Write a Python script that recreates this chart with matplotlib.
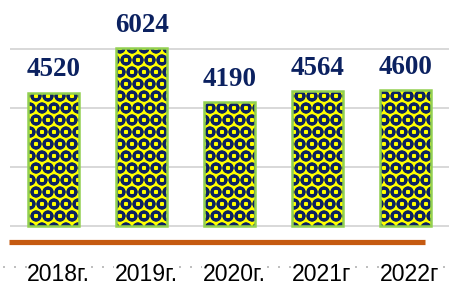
import numpy as np
import matplotlib
matplotlib.use("Agg")
import matplotlib.pyplot as plt
from matplotlib.lines import Line2D

years = ['2018г.', '2019г.', '2020г.', '2021г', '2022г']
values = [4520, 6024, 4190, 4564, 4600]

navy = '#0b2160'
yellow = '#ffff00'
green = '#92d050'

# at dpi 72 one point is one pixel
plt.rcParams['hatch.linewidth'] = 2.8

fig = plt.figure(figsize=(449 / 72, 286 / 72), dpi=72)
ax = fig.add_axes([10 / 449, 0, 439 / 449, 1])

x = np.arange(len(years))
ax.set_xlim(-0.5, len(years) - 0.5)
ax.set_ylim(-2034, 7661)

# grid
ax.set_yticks([0, 2000, 4000, 6000])
ax.grid(axis='y', color='#d9d9d9', lw=2, zorder=0)
ax.set_axisbelow(True)
for s in ax.spines.values():
    s.set_visible(False)
ax.tick_params(left=False, bottom=False, labelleft=False, labelbottom=False)
ax.set_xticks([])

# bars: pattern fill then green outline
ax.bar(x, values, width=0.58, color=yellow, edgecolor=navy, hatch='O', lw=0, zorder=2)
ax.bar(x, values, width=0.58, fill=False, edgecolor=green, lw=2.5, zorder=3)

for xi, v in zip(x, values):
    ax.text(xi, v + 560, str(v), ha='center', va='baseline', color=navy,
            fontsize=27, fontweight='bold', family=['Liberation Serif', 'DejaVu Serif'])

# orange axis line
ax.add_line(Line2D([-0.002, 0.945], [-542, -542], transform=ax.get_yaxis_transform(),
                   color='#c55a11', lw=5.2, clip_on=False, solid_capstyle='butt'))
# dotted line behind the labels
ax.add_line(Line2D([-0.016, 1.0], [-1390, -1390], transform=ax.get_yaxis_transform(),
                   color='#bfbfbf', lw=2, ls=(0, (1, 4.5)), clip_on=False))

for xi, lab in zip(x, years):
    ax.text(xi + 0.05, -1860, lab, ha='center', va='baseline', color='black',
            fontsize=23, family=['Liberation Sans Narrow', 'Liberation Sans'],
            bbox=dict(facecolor='white', edgecolor='none', pad=0.2))

fig.savefig('out.png', dpi=72)
